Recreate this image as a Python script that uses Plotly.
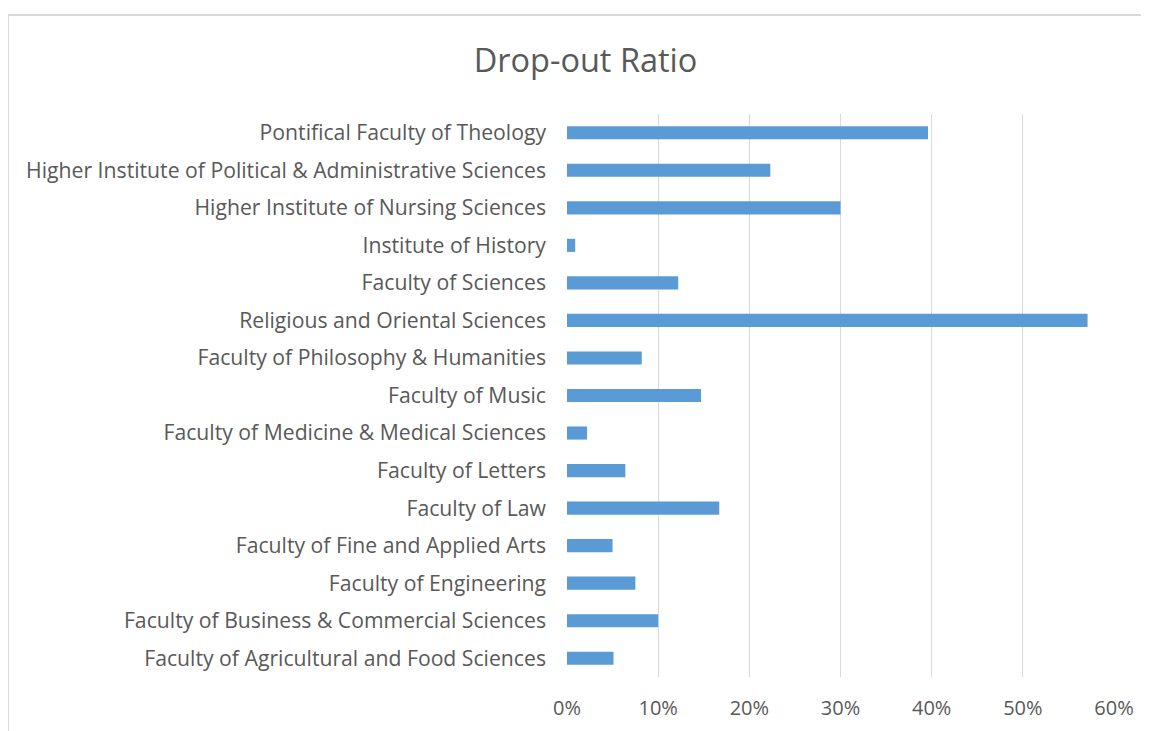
import plotly.graph_objects as go

categories = [
    "Pontifical Faculty of Theology",
    "Higher Institute of Political & Administrative Sciences",
    "Higher Institute of Nursing Sciences",
    "Institute of History",
    "Faculty of Sciences",
    "Religious and Oriental Sciences",
    "Faculty of Philosophy & Humanities",
    "Faculty of Music",
    "Faculty of Medicine & Medical Sciences",
    "Faculty of Letters",
    "Faculty of Law",
    "Faculty of Fine and Applied Arts",
    "Faculty of Engineering",
    "Faculty of Business & Commercial Sciences",
    "Faculty of Agricultural and Food Sciences",
]
dropout_ratio = [0.396, 0.223, 0.300, 0.009, 0.122, 0.571, 0.082, 0.147,
                 0.022, 0.064, 0.167, 0.050, 0.075, 0.100, 0.051]
tick_values = [0, 0.1, 0.2, 0.3, 0.4, 0.5, 0.6]
tick_labels = ["0%", "10%", "20%", "30%", "40%", "50%", "60%"]

# page body has an 8px margin; size the figure so it fills the 1149x731 window
OFF = 8
W, H = 1149 - OFF, 731 - OFF
# plot area in screen pixels: x 567..1114, y 114..677
L, R, T, B = 567 - OFF, 1149 - 1114, 114 - OFF, 731 - 677

fig = go.Figure(go.Bar(
    x=dropout_ratio, y=categories, orientation="h",
    marker=dict(color="#5B9BD5", line=dict(width=0)),
))

font_family = "Open Sans, DejaVu Sans, sans-serif"
fig.update_layout(
    width=W, height=H,
    margin=dict(l=L, r=R, t=T, b=B, autoexpand=False),
    paper_bgcolor="white", plot_bgcolor="white",
    bargap=0.65,
    showlegend=False,
    title=dict(text="Drop-out Ratio", x=(585.5 - OFF) / W, xref="container", xanchor="center",
               y=1 - (61 - OFF) / H, yref="container", yanchor="middle",
               font=dict(family=font_family, size=32.5, color="#595959")),
    font=dict(family=font_family, color="#595959"),
)
fig.update_xaxes(range=[0, 0.6], tickvals=tick_values, ticktext=tick_labels,
                 showgrid=True, gridcolor="#D9D9D9", gridwidth=1.3,
                 zeroline=False, showline=False, ticks="", automargin=False,
                 tickfont=dict(size=20, color="#595959"), ticklabelstandoff=17)
fig.update_yaxes(autorange="reversed", showgrid=False, showline=False, ticks="",
                 automargin=False,
                 tickfont=dict(size=21.2, color="#595959"), ticklabelstandoff=20)

pw, ph = W - L - R, H - T - B
def px_x(v):
    return (v - OFF - L) / pw
def px_y(v):
    return (H - B - (v - OFF)) / ph

border = "#D9D9D9"
fig.add_shape(type="line", xref="paper", yref="paper",
              x0=px_x(8), x1=px_x(1160), y0=px_y(15), y1=px_y(15),
              line=dict(color=border, width=2))
fig.add_shape(type="line", xref="paper", yref="paper",
              x0=px_x(8), x1=px_x(8), y0=px_y(15), y1=px_y(740),
              line=dict(color=border, width=2))

fig.write_html("out.html")
